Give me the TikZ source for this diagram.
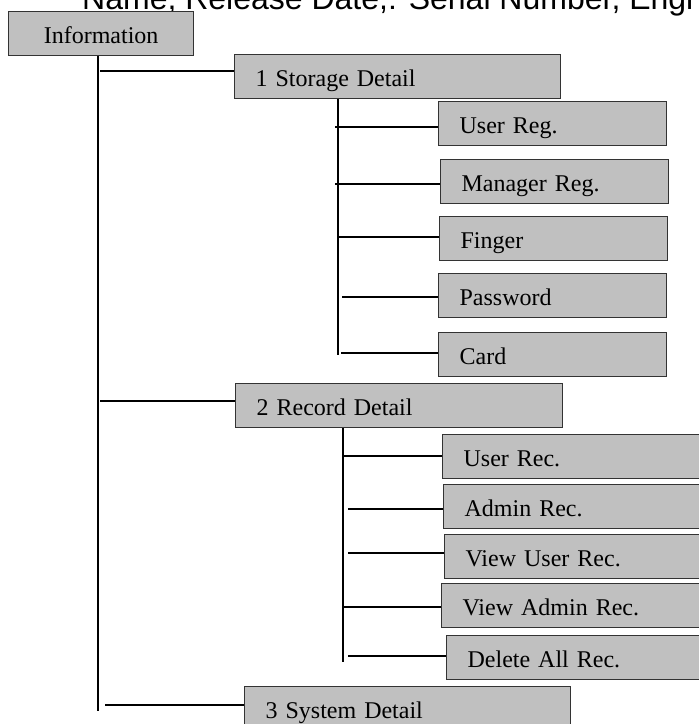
\documentclass[tikz,border=0pt]{standalone}
\usepackage{fontspec}
\setmainfont{Liberation Serif}
\newfontfamily\arialfont{Liberation Sans}
\definecolor{boxgray}{HTML}{C0C0C0}

\begin{document}
\begin{tikzpicture}[
    x = 1pt, y = -1pt,
    blok/.style = {rectangle, draw=black!80, line width=1.2pt, fill=boxgray,
                   anchor=north west, minimum height=44pt, inner xsep=21pt,
                   text height=22pt, text depth=2pt, align=left,
                   font=\fontsize{24}{24}\selectfont},
    tak/.style = {black, line width=1.8pt},
    ]
  \useasboundingbox (0,0) rectangle (699,724);
  \clip (0,0) rectangle (699,724);

  \node[anchor=base west, inner sep=0pt, font=\arialfont\fontsize{32}{32}\selectfont]
    (kop) at (82,9) {Name, Release Date,: Serial Number, Engi};

  \node[blok, text width=143pt, align=center] (info) at (8,11) {Information};

  \node[blok, text width=284pt] (stor) at (234,54) {1 Storage Detail};
  \node[blok, text width=186pt] (ureg) at (438,101) {User Reg.};
  \node[blok, text width=186pt] (mreg) at (440,159) {Manager Reg.};
  \node[blok, text width=186pt] (fing) at (439,216) {Finger};
  \node[blok, text width=186pt] (pass) at (438,273) {Password};
  \node[blok, text width=186pt] (card) at (438,332) {Card};

  \node[blok, text width=285pt] (rec) at (235,383) {2 Record Detail};
  \node[blok, text width=258pt] (urec) at (442,434) {User Rec.};
  \node[blok, text width=258pt] (arec) at (443,484) {Admin Rec.};
  \node[blok, text width=258pt] (vurec) at (444,534) {View User Rec.};
  \node[blok, text width=258pt] (varec) at (441,583) {View Admin Rec.};
  \node[blok, text width=258pt] (drec) at (446,635) {Delete All Rec.};

  \node[blok, text width=284pt] (sys) at (244,686) {3 System Detail};

  % main trunk
  \coordinate (t0) at (98,711);
  \coordinate (c1) at (100,71);
  \coordinate (c2) at (100,401);
  \coordinate (c3) at (105,705);
  \draw[tak] (info.south -| t0) -- (t0);
  \draw[tak] (c1) -- (c1 -| stor.west);
  \draw[tak] (c2) -- (c2 -| rec.west);
  \draw[tak] (c3) -- (c3 -| sys.west);

  % storage branch
  \coordinate (s0) at (338,355);
  \coordinate (s1) at (335,127);
  \coordinate (s2) at (335,184);
  \coordinate (s3) at (338,237);
  \coordinate (s4) at (342,297);
  \coordinate (s5) at (341,353);
  \draw[tak] (stor.south -| s0) -- (s0);
  \draw[tak] (s1) -- (s1 -| ureg.west);
  \draw[tak] (s2) -- (s2 -| mreg.west);
  \draw[tak] (s3) -- (s3 -| fing.west);
  \draw[tak] (s4) -- (s4 -| pass.west);
  \draw[tak] (s5) -- (s5 -| card.west);

  % record branch
  \coordinate (r0) at (343,662);
  \coordinate (r1) at (344,456);
  \coordinate (r2) at (348,509);
  \coordinate (r3) at (348,553);
  \coordinate (r4) at (344,607);
  \coordinate (r5) at (348,656);
  \draw[tak] (rec.south -| r0) -- (r0);
  \draw[tak] (r1) -- (r1 -| urec.west);
  \draw[tak] (r2) -- (r2 -| arec.west);
  \draw[tak] (r3) -- (r3 -| vurec.west);
  \draw[tak] (r4) -- (r4 -| varec.west);
  \draw[tak] (r5) -- (r5 -| drec.west);

\end{tikzpicture}
\end{document}
